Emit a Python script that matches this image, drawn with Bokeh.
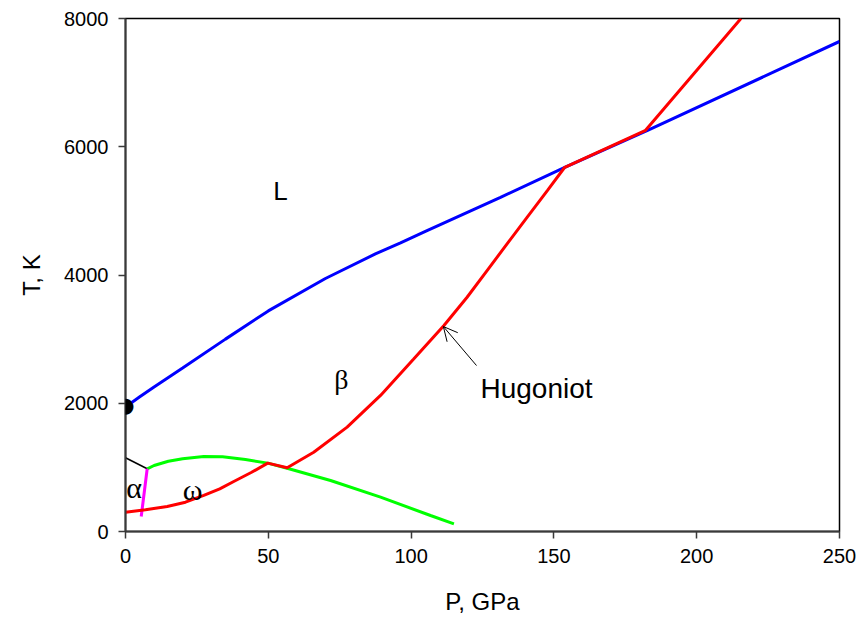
from bokeh.plotting import figure
from bokeh.models import Range1d, FixedTicker, Arrow, OpenHead, Label
from bokeh.core.properties import value
from bokeh.embed import file_html
from bokeh.resources import INLINE

# ---- data ----
melt_P = [0, 5, 10, 20, 35, 50, 70, 87.5, 96.3, 105, 131.3, 154, 183, 250]
melt_T = [1941, 2100, 2255, 2550, 3000, 3440, 3945, 4329, 4500, 4680, 5212, 5683, 6258, 7642]

hug_P = [0, 7, 14.6, 21, 27.4, 33, 37.9, 44, 49.8, 56.6, 65.9, 77.6, 89.3, 100.9,
         111.5, 119.6, 126.6, 133.6, 140.6, 147.7, 153.8, 182.1, 215.5]
hug_T = [300, 338, 390, 457, 562, 665, 780, 920, 1066, 995, 1237, 1627, 2122, 2690,
         3212, 3653, 4069, 4485, 4900, 5316, 5680, 6256, 8000]

ob_P = [7.6, 10, 15, 20, 27.4, 34, 42, 49.8, 56.6, 71.8, 89.3, 106.8, 115]
ob_T = [978, 1029, 1095, 1133, 1168, 1164, 1122, 1066, 987, 796, 535, 250, 120]

aw_P = [7.6, 5.5]
aw_T = [978, 234]

ab_P = [0, 7.6]
ab_T = [1150, 978]

mp_P = 0
mp_T = 1941

x_ticks = [0, 50, 100, 150, 200, 250]
y_ticks = [0, 2000, 4000, 6000, 8000]

W, H = 863, 617
p = figure(width=W, height=H, output_backend="svg", toolbar_location=None,
           x_range=Range1d(0, 250), y_range=Range1d(0, 8000),
           min_border_left=125, min_border_right=24, min_border_top=18, min_border_bottom=86)
p.background_fill_color = "white"
p.border_fill_color = "white"
p.outline_line_color = "black"
p.outline_line_width = 1.5
p.xgrid.visible = False
p.ygrid.visible = False

for ax in (p.xaxis[0], p.yaxis[0]):
    ax.axis_line_color = "#3a3a3a"
    ax.axis_line_width = 2
    ax.major_tick_line_color = "#3a3a3a"
    ax.major_tick_line_width = 1.5
    ax.major_tick_out = 7
    ax.major_tick_in = 0
    ax.minor_tick_line_color = None
    ax.major_label_text_font = "Liberation Sans"
    ax.major_label_text_font_size = "20px"
    ax.major_label_text_color = "black"
    ax.major_label_standoff = 10
    ax.axis_label_text_font = "Liberation Sans"
    ax.axis_label_text_font_size = "24px"
    ax.axis_label_text_font_style = "normal"
    ax.axis_label_text_color = "black"

p.xaxis.ticker = FixedTicker(ticks=x_ticks)
p.yaxis.ticker = FixedTicker(ticks=y_ticks)
p.xaxis.axis_label = "P, GPa"
p.yaxis.axis_label = "T, K"
p.xaxis.axis_label_standoff = 22
p.yaxis.axis_label_standoff = 16

p.line(ab_P, ab_T, color="black", line_width=1.5)
p.line(ob_P, ob_T, color="#00FF00", line_width=3)
p.line(aw_P, aw_T, color="#FF00FF", line_width=3)
p.line(melt_P, melt_T, color="#0000FF", line_width=3)
p.line(hug_P, hug_T, color="#FF0000", line_width=3)

# melting point at 0 GPa (drawn as an annotation so it is not clipped by the frame)
p.add_layout(Label(x=mp_P, y=mp_T, x_units="data", y_units="data", text="●",
                   x_offset=0, y_offset=2,
                   text_font="DejaVu Sans", text_font_size="21px", text_color="black",
                   text_align="center", text_baseline="middle"))

sans = value("Liberation Sans")
serif = value("Liberation Serif")
p.text(x=[51.7], y=[5316], text=["L"], text_font=sans, text_font_size="26px",
       text_align="left", text_baseline="alphabetic", text_color="black")
p.text(x=[124.3], y=[2229], text=["Hugoniot"], text_font=sans, text_font_size="28px",
       text_align="left", text_baseline="alphabetic", text_color="black")
p.text(x=[75.6], y=[2370], text=["β"], text_font=serif, text_font_size="28px",
       text_align="center", text_baseline="alphabetic", text_color="black")
p.text(x=[3.0], y=[686], text=["α"], text_font=serif, text_font_size="30px",
       text_align="center", text_baseline="alphabetic", text_color="black")
p.text(x=[23.5], y=[655], text=["ω"], text_font=serif, text_font_size="30px",
       text_align="center", text_baseline="alphabetic", text_color="black")

p.add_layout(Arrow(end=OpenHead(size=14, line_width=1, line_color="black"),
                   x_start=122.9, y_start=2588, x_end=111.3, y_end=3196,
                   line_width=1, line_color="black"))

open("out.html", "w").write(file_html(p, INLINE))
